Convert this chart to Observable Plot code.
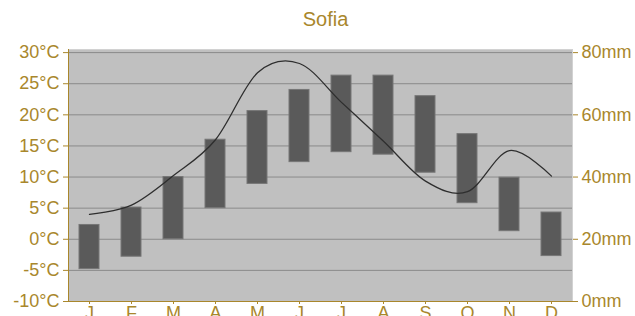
<!DOCTYPE html>
<html>
<head>
<meta charset="utf-8">
<script src="https://cdn.jsdelivr.net/npm/d3@7"></script>
<script src="https://cdn.jsdelivr.net/npm/@observablehq/plot@0.6"></script>
<style>
  html, body { margin: 0; padding: 0; background: #fff; }
  #wrap { position: relative; width: 635px; height: 316px; overflow: hidden; font-family: "Liberation Sans", Arial, sans-serif; }
  #title { position: absolute; top: 8px; left: 0; width: 651px; text-align: center; font-size: 20px; line-height: 23px; color: #a9872c; }
</style>
</head>
<body>
<div id="wrap">
  <div id="title">Sofia</div>
  <div id="chart"></div>
</div>
<script>
const title = "Sofia";
const monthLabels = ["J","F","M","A","M","J","J","A","S","O","N","D"];
const tempMin = [-4.8, -2.8, 0.0, 5.0, 8.9, 12.4, 14.0, 13.6, 10.7, 5.8, 1.3, -2.7];
const tempMax = [2.3, 5.1, 10.0, 16.0, 20.6, 24.0, 26.3, 26.3, 23.0, 16.9, 9.9, 4.3];
const precipMm = [28.0, 31.0, 40.5, 52.0, 73.5, 76.5, 64.0, 51.5, 38.7, 35.3, 48.5, 40.3];
const tempTicks = [-10, -5, 0, 5, 10, 15, 20, 25, 30];
const mmTicks = [0, 20, 40, 60, 80];

const gold = "#a9872c";
const months = d3.range(monthLabels.length);
const rows = months.map(i => ({m: i, lo: tempMin[i], hi: tempMax[i], p: precipMm[i]}));
// precipitation axis: 0..80 mm mapped onto -10..30 °C
const mmToTemp = mm => mm / 2 - 10;

const chart = Plot.plot({
  width: 635,
  height: 316,
  marginLeft: 68,
  marginRight: 63,
  marginTop: 49,
  marginBottom: 15,
  style: {fontFamily: "Liberation Sans, Arial, sans-serif", background: "transparent", overflow: "hidden"},
  x: {type: "band", domain: months, paddingInner: 0.52, paddingOuter: 0.26, axis: null},
  y: {domain: [-10, 30.5], axis: null},
  marks: [
    Plot.frame({fill: "#c0c0c0", stroke: "#d2d2d2"}),
    Plot.ruleY(tempTicks, {stroke: "#8a8a8a", strokeWidth: 1}),
    Plot.barY(rows, {x: "m", y1: "lo", y2: "hi", fill: "#5a5a5a", stroke: "#767676", strokeWidth: 1}),
    Plot.line(rows, {x: "m", y: d => mmToTemp(d.p), curve: "cardinal", tension: 0, stroke: "#2e2e2e", strokeWidth: 1.3}),
    Plot.frame({anchor: "left", stroke: gold}),
    Plot.frame({anchor: "bottom", stroke: gold}),
    Plot.axisY(tempTicks, {anchor: "left", tickFormat: d => d + "°C", tickSize: 5, tickPadding: 4, fontSize: 18, color: gold, label: null}),
    Plot.axisY(mmTicks.map(mmToTemp), {anchor: "right", tickFormat: (d, i) => mmTicks[i] + "mm", tickSize: 5, tickPadding: 4, fontSize: 18, color: gold, label: null}),
    Plot.axisX(months, {tickFormat: i => monthLabels[i], tickSize: 3, tickPadding: 2, fontSize: 18, color: gold, label: null})
  ]
});
document.getElementById("chart").appendChild(chart);
</script>
</body>
</html>
